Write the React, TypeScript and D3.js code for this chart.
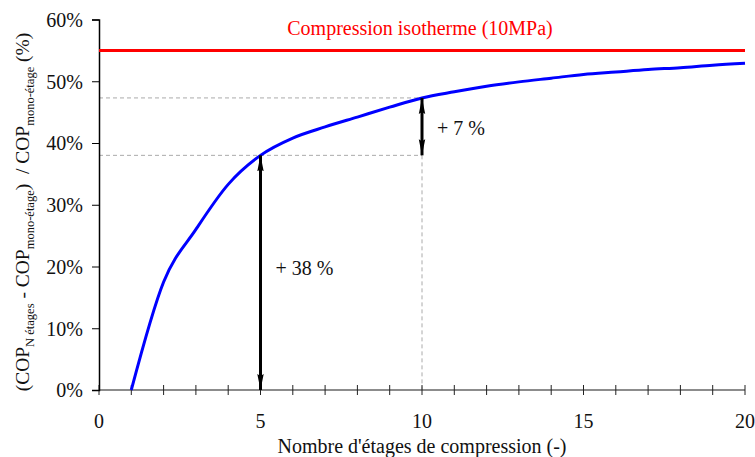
import React, { useEffect, useRef } from 'react';
import * as d3 from 'd3';

// nombre d'étages -> gain de COP relatif (%)
const stages = [1, 2, 3, 4, 5, 6, 7, 8, 9, 10, 11, 12, 13, 14, 15, 16, 17, 18, 19, 20];
const gains = [0, 17.5, 26.0, 33.3, 38.0, 40.8, 42.6, 44.2, 45.8, 47.3, 48.3, 49.2, 49.9, 50.5, 51.1, 51.5, 51.9, 52.2, 52.6, 52.9];
const isothermGain = 55;
const yTicks = [0, 10, 20, 30, 40, 50, 60];
const xMajorTicks = [0, 5, 10, 15, 20];
const xMinorTicks = d3.range(0, 21);
// annotations: [x, de, à, libellé, hauteur du libellé]
const annotations: [number, number, number, string, number][] = [
  [5, 0, 38.0, '+ 38 %', 18.6],
  [10, 38.0, 47.3, '+ 7 %', 41.3],
];

export default function App() {
  const svgRef = useRef<SVGSVGElement>(null);

  useEffect(() => {
    if (!svgRef.current) return;
    const svg = d3.select(svgRef.current);
    svg.selectAll('*').remove();

    const left = 99, right = 745, top = 19.5, bottom = 390;

    const x = d3.scaleLinear().domain([0, 20]).range([left, right]);
    const y = d3.scaleLinear().domain([0, 60]).range([bottom, top]);

    const defs = svg.append('defs');
    defs.append('marker')
      .attr('id', 'head')
      .attr('viewBox', '0 0 16 8')
      .attr('refX', 16).attr('refY', 4)
      .attr('markerWidth', 16).attr('markerHeight', 8)
      .attr('markerUnits', 'userSpaceOnUse')
      .attr('orient', 'auto-start-reverse')
      .append('path')
      .attr('d', 'M0,0.8 L16,4 L0,7.2 L2,4 Z')
      .attr('fill', '#000');

    // guides pointillés
    const dash = svg.append('g')
      .attr('stroke', '#aaa').attr('stroke-width', 1).attr('stroke-dasharray', '4,3');
    dash.append('line')
      .attr('x1', x(0)).attr('x2', x(10)).attr('y1', y(47.3)).attr('y2', y(47.3));
    dash.append('line')
      .attr('x1', x(0)).attr('x2', x(10)).attr('y1', y(38)).attr('y2', y(38));
    dash.append('line')
      .attr('x1', x(10)).attr('x2', x(10)).attr('y1', y(38)).attr('y2', y(0));

    // axe X
    const gx = svg.append('g');
    gx.append('line')
      .attr('x1', x(0)).attr('x2', x(20)).attr('y1', y(0)).attr('y2', y(0))
      .attr('stroke', '#666').attr('stroke-width', 1.5);
    gx.selectAll('line.tick')
      .data(xMinorTicks)
      .enter().append('line')
      .attr('class', 'tick')
      .attr('x1', d => x(d)).attr('x2', d => x(d))
      .attr('y1', y(0) - 5).attr('y2', y(0) + 5)
      .attr('stroke', '#222').attr('stroke-width', 1);
    gx.selectAll('text')
      .data(xMajorTicks)
      .enter().append('text')
      .attr('x', d => x(d)).attr('y', 428)
      .attr('text-anchor', 'middle')
      .attr('font-size', 20)
      .text(d => d);
    svg.append('text')
      .attr('x', (x(0) + x(20)) / 2).attr('y', 453)
      .attr('text-anchor', 'middle')
      .attr('font-size', 20)
      .text("Nombre d'étages de compression (-)");

    // axe Y
    const gy = svg.append('g')
      .attr('transform', `translate(${left},0)`)
      .call(d3.axisLeft(y).tickValues(yTicks).tickSize(7).tickPadding(9).tickFormat(d => `${d}%`));
    gy.attr('font-family', null).attr('font-size', 20);
    gy.select('.domain').attr('stroke', '#000').attr('stroke-width', 1.5);
    gy.selectAll('.tick line').attr('stroke', '#000');
    gy.selectAll('.tick text').attr('fill', '#111').attr('dy', '0.34em');

    // libellé Y
    const yl = svg.append('text')
      .attr('transform', 'translate(29,212) rotate(-90)')
      .attr('text-anchor', 'middle')
      .attr('font-size', 19.5);
    const parts: [string, boolean][] = [
      ['(COP', false], ['N étages', true], [' - COP', false], ['mono-étage', true],
      [')  / COP', false], ['mono-étage', true], [' (%)', false],
    ];
    parts.forEach(([t, sub], i) => {
      const prevSub = i > 0 && parts[i - 1][1];
      yl.append('tspan')
        .attr('dy', sub ? 5 : prevSub ? -5 : 0)
        .attr('font-size', sub ? 12.5 : 19.5)
        .style('white-space', 'pre')
        .text(t);
    });

    // isotherme
    svg.append('line')
      .attr('x1', x(0)).attr('x2', x(20))
      .attr('y1', y(isothermGain)).attr('y2', y(isothermGain))
      .attr('stroke', '#ff0000').attr('stroke-width', 3);
    svg.append('text')
      .attr('x', 420).attr('y', 35)
      .attr('text-anchor', 'middle')
      .attr('font-size', 20).attr('fill', '#ff0000')
      .text('Compression isotherme (10MPa)');

    // courbe
    const line = d3.line<number>()
      .x((_, i) => x(stages[i]))
      .y(d => y(d))
      .curve(d3.curveMonotoneX);
    svg.append('path')
      .datum(gains)
      .attr('d', line)
      .attr('fill', 'none')
      .attr('stroke', '#0000ff')
      .attr('stroke-width', 3);

    // flèches
    const ann = svg.append('g');
    annotations.forEach(([ax, from, to, label, at]) => {
      ann.append('line')
        .attr('x1', x(ax)).attr('x2', x(ax))
        .attr('y1', y(from)).attr('y2', y(to))
        .attr('stroke', '#000').attr('stroke-width', 3)
        .attr('marker-start', 'url(#head)')
        .attr('marker-end', 'url(#head)');
      ann.append('text')
        .attr('x', x(ax) + 15)
        .attr('y', y(at))
        .attr('font-size', 20)
        .text(label);
    });
  }, []);

  return (
    <svg
      ref={svgRef}
      width={755}
      height={457}
      fontFamily="'Liberation Serif', 'Times New Roman', serif"
      fill="#111"
      style={{ position: 'absolute', left: 0, top: 0, background: '#fff' }}
    />
  );
}
